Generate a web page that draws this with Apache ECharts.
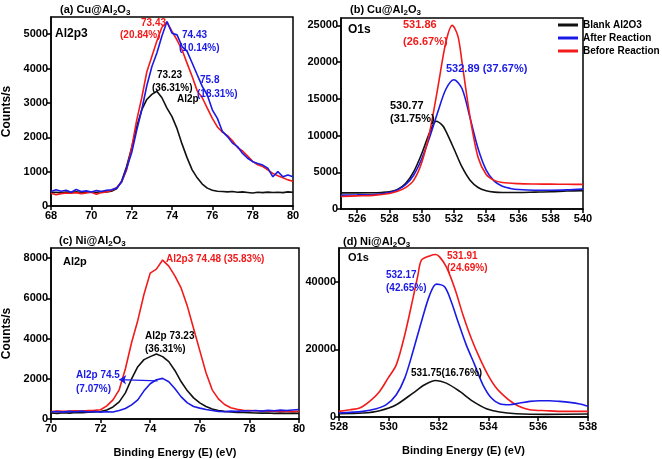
<!DOCTYPE html>
<html>
<head>
<meta charset="utf-8">
<script src="https://cdn.jsdelivr.net/npm/echarts@6/dist/echarts.min.js"></script>
<style>
html, body { margin: 0; padding: 0; background: #fff; }
#chart { width: 662px; height: 459px; }
</style>
</head>
<body>
<div id="chart"></div>
<script>
// (a) Cu@Al2O3, Al2p3
const aX = [68, 68.25, 68.5, 68.75, 69, 69.25, 69.5, 69.75, 70, 70.25, 70.5, 70.75, 71, 71.25, 71.5, 71.75,
	72, 72.25, 72.5, 72.75, 73, 73.25, 73.5, 73.75, 74, 74.25, 74.5, 74.75, 75, 75.25, 75.5, 75.75,
	76, 76.25, 76.5, 76.75, 77, 77.25, 77.5, 77.75, 78, 78.25, 78.5, 78.75, 79, 79.25, 79.5, 79.75, 80];
const aBlank = [390, 400, 385, 405, 395, 410, 390, 400, 415, 395, 420, 410, 430, 500, 720, 1150,
	1700, 2300, 2800, 3100, 3250, 3340, 3150, 2850, 2600, 2250, 1800, 1400, 1050, 820, 640, 520,
	460, 430, 420, 410, 420, 400, 410, 395, 380, 400, 390, 405, 395, 400, 390, 410, 400];
const aBefore = [370, 330, 360, 380, 370, 390, 360, 380, 400, 340, 390, 410, 450, 530, 700, 1050,
	1700, 2500, 3150, 3900, 4350, 4800, 5200, 5350, 5080, 4830, 4540, 4150, 3770, 3350, 3150, 2850,
	2550, 2300, 2150, 2050, 1900, 1700, 1600, 1450, 1300, 1200, 1150, 1050, 950, 880, 820, 760, 720];
const aAfter = [420, 470, 430, 460, 400, 480, 420, 440, 410, 450, 420, 460, 470, 520, 700, 1100,
	1550, 2200, 2800, 3500, 4050, 4450, 4950, 5370, 5030, 4980, 4640, 4500, 4160, 3820, 3480, 3230,
	2800, 2550, 2170, 2020, 1830, 1730, 1530, 1390, 1290, 1240, 1190, 1100, 850, 1000, 850, 900, 850];

// (b) Cu@Al2O3, O1s
const bBlankX = [525, 526, 527, 527.5, 528, 528.5, 529, 529.5, 530, 530.5, 530.9, 531.3, 531.5, 532, 532.5, 533, 533.5, 534, 534.5, 535, 536, 537, 538, 539, 540];
const bBlank = [2200, 2200, 2210, 2250, 2340, 2660, 3470, 5050, 7520, 10450, 11940, 11350, 10590, 8200, 5720, 3920, 2930, 2480, 2300, 2250, 2250, 2300, 2350, 2450, 2500];
const bAfterX = [525, 526, 527, 528, 528.5, 529, 529.5, 530, 530.5, 531, 531.5, 532, 532.5, 533, 533.5, 534, 534.5, 535, 535.5, 536, 537, 538, 539, 540];
const bAfter = [1890, 1930, 1980, 2250, 2600, 3300, 4600, 6800, 9800, 13200, 16300, 17600, 16400, 12400, 8200, 5300, 3800, 3100, 2800, 2650, 2550, 2550, 2600, 2700];
const bBeforeX = [525, 526, 527, 528, 528.5, 529, 529.5, 530, 530.5, 531, 531.5, 531.9, 532.25, 532.5, 533, 533.5, 534, 534.5, 535, 536, 537, 538, 539, 540];
const bBefore = [1700, 1780, 1850, 2100, 2400, 2900, 3900, 6300, 10500, 16500, 22700, 25000, 23500, 20000, 12500, 7000, 4700, 3900, 3600, 3450, 3400, 3380, 3360, 3350];

// (c) Ni@Al2O3, Al2p
const cX = [70, 70.25, 70.5, 70.75, 71, 71.25, 71.5, 71.75, 72, 72.25, 72.5, 72.75, 73, 73.25, 73.5, 73.75,
	74, 74.25, 74.5, 74.75, 75, 75.25, 75.5, 75.75, 76, 76.25, 76.5, 76.75, 77, 77.25, 77.5, 77.75,
	78, 78.25, 78.5, 78.75, 79, 79.25, 79.5, 79.75, 80];
const cBefore = [370, 390, 380, 400, 410, 390, 420, 430, 460, 650, 950, 1450, 2500, 3800, 4900, 6200,
	7250, 7450, 7900, 7600, 7100, 6500, 5600, 4500, 3400, 2300, 1450, 1000, 720, 560, 480, 430,
	420, 410, 400, 390, 400, 380, 390, 370, 380];
const cBlank = [300, 280, 310, 290, 330, 310, 340, 350, 370, 450, 600, 850, 1300, 2000, 2600, 2950,
	3100, 3230, 3100, 2850, 2400, 1850, 1400, 1050, 800, 620, 500, 420, 380, 350, 330, 320,
	310, 300, 290, 300, 280, 290, 280, 290, 280];
const cAfter = [350, 370, 340, 380, 360, 390, 350, 370, 340, 360, 350, 420, 520, 700, 950, 1400,
	1750, 1950, 2020, 1850, 1500, 1100, 800, 620, 540, 470, 420, 380, 360, 390, 380, 410,
	400, 420, 390, 430, 410, 440, 420, 450, 470];

// (d) Ni@Al2O3, O1s
const dBeforeX = [528, 528.43, 528.83, 529.23, 529.63, 529.97, 530.3, 530.64, 530.97, 531.17, 531.31, 531.64, 531.88, 532.04, 532.31, 532.65, 532.98, 533.31, 533.65, 533.98, 534.32, 534.65, 534.99, 535.32, 535.66, 536.33, 537, 538];
const dBefore = [1670, 2160, 2650, 4620, 7570, 11500, 15430, 24270, 35090, 41970, 46400, 47660, 48060, 47370, 44420, 38030, 30170, 23290, 17400, 12480, 8550, 6090, 4130, 2850, 2160, 1870, 1670, 1670];
const dAfterX = [528, 528.96, 529.5, 529.9, 530.3, 530.64, 530.97, 531.31, 531.64, 531.91, 532.24, 532.51, 532.78, 533.11, 533.45, 533.78, 534.12, 534.45, 534.85, 535.26, 535.66, 536.06, 536.46, 536.86, 537.26, 537.67, 538];
const dAfter = [1180, 1670, 2460, 3640, 6580, 11500, 19360, 28200, 36070, 39310, 38530, 34100, 28200, 21330, 15430, 9530, 5600, 3930, 3640, 4130, 4620, 4820, 4820, 4620, 4320, 3830, 3150];
const dBlankX = [528, 528.96, 529.63, 530.3, 530.97, 531.44, 531.88, 532.31, 532.85, 533.38, 533.92, 534.45, 535.12, 536.33, 538];
const dBlank = [980, 1180, 1870, 3640, 7080, 9530, 10810, 10020, 7570, 4620, 2460, 1470, 980, 790, 880];

// tick labels
const aXTicks = [68, 70, 72, 74, 76, 78, 80];
const aYTicks = [0, 1000, 2000, 3000, 4000, 5000];
const bXTicks = [526, 528, 530, 532, 534, 536, 538, 540];
const bYTicks = [0, 5000, 10000, 15000, 20000, 25000];
const cXTicks = [70, 72, 74, 76, 78, 80];
const cYTicks = [0, 2000, 4000, 6000, 8000];
const dXTicks = [528, 530, 532, 534, 536, 538];
const dYTicks = [0, 20000, 40000];

const legendNames = ['Blank Al2O3', 'After Reaction', 'Before Reaction'];

const FONT = "'Liberation Sans', Arial, sans-serif";
const RED = '#f21a1a';
const BLUE = '#1a1ae6';
const BLACK = '#111';

const chart = echarts.init(document.getElementById('chart'));

function xAxisOf(gi, min, max, ticks, name) {
	return {
		type: 'value', gridIndex: gi, min: min, max: max,
		name: name || '', nameLocation: 'middle', nameGap: 28,
		nameTextStyle: { color: '#000', fontSize: 11, fontWeight: 'bold', fontFamily: FONT },
		axisLine: { onZero: false, lineStyle: { color: '#000', width: 1.5 } },
		axisTick: { length: 4, customValues: ticks, lineStyle: { color: '#000', width: 1.5 } },
		axisLabel: {
			customValues: ticks, margin: 4, color: '#000', fontSize: 11, fontWeight: 'bold', fontFamily: FONT,
			formatter: v => String(v)
		},
		splitLine: { show: false }
	};
}
function yAxisOf(gi, max, ticks, name) {
	return {
		type: 'value', gridIndex: gi, min: 0, max: max,
		name: name || '', nameLocation: 'middle', nameGap: 38,
		nameTextStyle: { color: '#000', fontSize: 12, fontWeight: 'bold', fontFamily: FONT },
		axisLine: { show: true, lineStyle: { color: '#000', width: 1.5 } },
		axisTick: { show: true, length: 4, customValues: ticks, lineStyle: { color: '#000', width: 1.5 } },
		axisLabel: {
			customValues: ticks, margin: 3, color: '#000', fontSize: 11, fontWeight: 'bold', fontFamily: FONT,
			formatter: v => String(v)
		},
		splitLine: { show: false }
	};
}
function line(name, color, xs, ys, gi, smooth) {
	return {
		name: name, type: 'line', xAxisIndex: gi, yAxisIndex: gi,
		data: xs.map((x, i) => [x, ys[i]]),
		showSymbol: false, smooth: smooth ? 0.3 : false,
		lineStyle: { color: color, width: 1.6 }, itemStyle: { color: color },
		z: 3
	};
}
function note(text, x, y, color, size) {
	return {
		type: 'text', x: x, y: y, z: 10,
		style: { text: text, fill: color, fontSize: size || 10, fontWeight: 'bold', fontFamily: FONT, verticalAlign: 'middle' }
	};
}
function titleOf(label, left, top) {
	return {
		text: '{m|' + label + '}{s|2}{m|O}{s|3}', left: left, top: top,
		textStyle: {
			rich: {
				m: { fontSize: 11, fontWeight: 'bold', color: '#000', fontFamily: FONT, lineHeight: 14 },
				s: { fontSize: 8, fontWeight: 'bold', color: '#000', fontFamily: FONT, lineHeight: 8, verticalAlign: 'bottom' }
			}
		}
	};
}

const gridBox = { show: true, borderColor: '#000', borderWidth: 1.5, backgroundColor: 'transparent' };

chart.setOption({
	animation: false,
	backgroundColor: '#fff',
	title: [
		titleOf('(a) Cu@Al', 55, -2),
		titleOf('(b) Cu@Al', 345, -2),
		titleOf('(c) Ni@Al', 54, 229),
		titleOf('(d) Ni@Al', 338, 230)
	],
	grid: [
		Object.assign({ left: 48, top: 17, width: 245, height: 189 }, gridBox),
		Object.assign({ left: 341, top: 18, width: 242, height: 191 }, gridBox),
		Object.assign({ left: 49, top: 248, width: 250, height: 177 }, gridBox),
		Object.assign({ left: 339, top: 248, width: 249, height: 169 }, gridBox)
	],
	xAxis: [
		xAxisOf(0, 68, 80, aXTicks),
		xAxisOf(1, 525, 540, bXTicks),
		xAxisOf(2, 70, 80, cXTicks, 'Binding Energy (E) (eV)'),
		xAxisOf(3, 528, 538, dXTicks, 'Binding Energy (E) (eV)')
	],
	yAxis: [
		yAxisOf(0, 5500, aYTicks, 'Counts/s'),
		yAxisOf(1, 26000, bYTicks),
		yAxisOf(2, 8500, cYTicks, 'Counts/s'),
		yAxisOf(3, 50000, dYTicks)
	],
	legend: {
		data: legendNames, orient: 'vertical', left: 558, top: 19,
		itemWidth: 20, itemHeight: 3, itemGap: 1, icon: 'rect', padding: 0,
		textStyle: { color: '#000', fontSize: 10, fontWeight: 'bold', fontFamily: FONT, lineHeight: 12, width: 90, overflow: 'none' }
	},
	series: [
		line('Blank Al2O3', BLACK, aX, aBlank, 0),
		line('Before Reaction', RED, aX, aBefore, 0),
		line('After Reaction', BLUE, aX, aAfter, 0),

		line('Blank Al2O3', BLACK, bBlankX, bBlank, 1, true),
		line('After Reaction', BLUE, bAfterX, bAfter, 1, true),
		line('Before Reaction', RED, bBeforeX, bBefore, 1, true),

		line('Blank Al2O3', BLACK, cX, cBlank, 2),
		line('Before Reaction', RED, cX, cBefore, 2),
		Object.assign(line('After Reaction', BLUE, cX, cAfter, 2), {
			markLine: {
				silent: true, symbol: ['none', 'arrow'], symbolSize: 7,
				label: { show: false },
				lineStyle: { color: BLUE, width: 1.2, type: 'solid' },
				data: [[{ coord: [74.3, 1900] }, { coord: [72.75, 1960] }]]
			}
		}),

		line('Blank Al2O3', BLACK, dBlankX, dBlank, 3, true),
		line('Before Reaction', RED, dBeforeX, dBefore, 3, true),
		line('After Reaction', BLUE, dAfterX, dAfter, 3, true)
	],
	graphic: [
		// (a)
		note('Al2p3', 55, 34, '#000', 12),
		note('73.43', 141, 23, RED),
		note('(20.84%)', 120, 35, RED),
		note('74.43', 182, 35, BLUE),
		note('(10.14%)', 179, 48, BLUE),
		note('73.23', 157, 75, '#000'),
		note('(36.31%)', 152, 88, '#000'),
		note('75.8', 200, 80, BLUE),
		note('(18.31%)', 197, 94, BLUE),
		note('Al2p', 177, 99, '#000'),
		// (b)
		note('O1s', 348, 30, '#000', 12),
		note('531.86', 403, 25, RED, 11),
		note('(26.67%)', 403, 42, RED, 11),
		note('532.89 (37.67%)', 446, 69, BLUE, 11),
		note('530.77', 390, 106, '#000', 11),
		note('(31.75%)', 390, 119, '#000', 11),
		// (c)
		note('Al2p', 63, 262, '#000', 11),
		note('Al2p3 74.48 (35.83%)', 166, 259, RED),
		note('Al2p 73.23', 145, 336, '#000'),
		note('(36.31%)', 145, 349, '#000'),
		note('Al2p 74.5', 76, 375, BLUE),
		note('(7.07%)', 76, 389, BLUE),
		// (d)
		note('O1s', 348, 258, '#000', 11),
		note('531.91', 447, 256, RED),
		note('(24.69%)', 447, 268, RED),
		note('532.17', 386, 275, BLUE),
		note('(42.65%)', 386, 288, BLUE),
		note('531.75(16.76%)', 411, 373, '#000')
	]
});
</script>
</body>
</html>
